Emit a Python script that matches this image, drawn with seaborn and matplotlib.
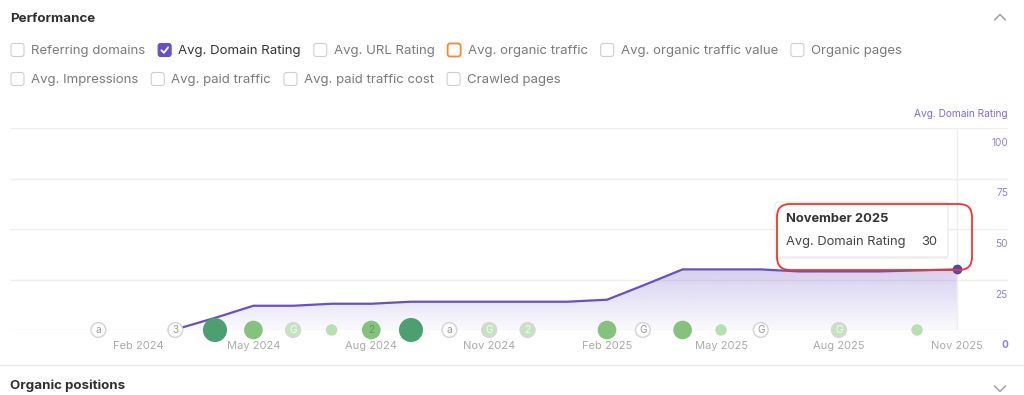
import numpy as np
import pandas as pd
import matplotlib
matplotlib.use("Agg")
import matplotlib.pyplot as plt
import matplotlib.dates as mdates
import matplotlib.transforms as mtransforms
from matplotlib.patches import FancyBboxPatch
import seaborn as sns

# --- data ------------------------------------------------------------------
dr_dates = ["2024-03-05", "2024-04-01", "2024-05-01", "2024-06-01", "2024-07-01",
            "2024-08-01", "2024-09-01", "2024-10-01", "2024-11-01", "2024-12-01",
            "2025-01-01", "2025-02-01", "2025-03-01", "2025-04-01", "2025-05-01",
            "2025-06-01", "2025-07-01", "2025-08-01", "2025-09-01", "2025-10-01",
            "2025-11-01"]
dr_values = [1, 6, 12, 12, 13, 13, 14, 14, 14, 14, 14, 15, 22, 30, 30, 30, 29, 29, 29, 29.5, 30]

event_dates = ["2024-01-01", "2024-03-01", "2024-04-01", "2024-05-01", "2024-06-01",
               "2024-07-01", "2024-08-01", "2024-09-01", "2024-10-01", "2024-11-01",
               "2024-12-01", "2025-02-01", "2025-03-01", "2025-04-01", "2025-05-01",
               "2025-06-01", "2025-08-01", "2025-10-01"]
event_kinds = ["note", "note", "big", "mid", "ring", "small", "mid", "big", "note", "ring",
               "ring", "mid", "note", "mid", "small", "note", "ring", "small"]
event_labels = ["a", "3", "", "", "G", "", "2", "", "a", "G", "2", "", "G", "", "", "G", "G", ""]

x_tick_dates = ["2024-02-01", "2024-05-01", "2024-08-01", "2024-11-01",
                "2025-02-01", "2025-05-01", "2025-08-01", "2025-11-01"]
x_tick_labels = ["Feb 2024", "May 2024", "Aug 2024", "Nov 2024",
                 "Feb 2025", "May 2025", "Aug 2025", "Nov 2025"]
y_ticks = [0, 25, 50, 75, 100]

row1_labels = ["Referring domains", "Avg. Domain Rating", "Avg. URL Rating",
               "Avg. organic traffic", "Avg. organic traffic value", "Organic pages"]
row1_states = ["off", "checked", "off", "orange", "off", "off"]
row2_labels = ["Avg. Impressions", "Avg. paid traffic", "Avg. paid traffic cost", "Crawled pages"]
row2_states = ["off", "off", "off", "off"]

tooltip_title = "November 2025"
tooltip_metric = "Avg. Domain Rating"
tooltip_value = "30"

# --- style -----------------------------------------------------------------
sns.set_theme(style="white")
plt.rcParams["font.family"] = ["Inter", "DejaVu Sans"]

PURPLE = "#6a50c2"
LABEL_PURPLE = "#8e82d6"
GRID = "#efefef"

df = pd.DataFrame({"date": pd.to_datetime(dr_dates), "dr": dr_values})
ev = pd.DataFrame({"date": pd.to_datetime(event_dates), "kind": event_kinds,
                   "label": event_labels})
ev["y"] = 0

fig = plt.figure(figsize=(10.24, 3.95), dpi=100)
fig.patch.set_facecolor("white")

W, H = 1024, 395
ax = fig.add_axes([10 / W, (H - 330) / H, 998 / W, 202 / H])
ax.set_facecolor("white")

x_left = mdates.date2num(pd.Timestamp("2023-10-24"))
x_right = mdates.date2num(pd.Timestamp("2025-12-11"))

# gradient fill under the line
fill = ax.fill_between(df["date"], df["dr"], 0, color="none", lw=0)
path = fill.get_paths()[0]
rgb = matplotlib.colors.to_rgb("#7560c8")
img = np.zeros((256, 1, 4))
img[..., :3] = rgb
img[..., 3] = np.linspace(0.03, 0.30, 256)[:, None]
x0 = mdates.date2num(df["date"].iloc[0])
x1 = mdates.date2num(df["date"].iloc[-1])
im = ax.imshow(img, extent=[x0, x1, 0, max(dr_values)], origin="lower",
               aspect="auto", zorder=1)
im.set_clip_path(path, transform=ax.transData)

sns.lineplot(data=df, x="date", y="dr", ax=ax, color=PURPLE, lw=1.6, zorder=3)
ax.scatter(df["date"].iloc[-1], df["dr"].iloc[-1], s=36, color="#5a44b0", zorder=6,
           clip_on=False)

# vertical hover line
ax.axvline(df["date"].iloc[-1], color="#eeeeee", lw=1, zorder=0.5)

# event bubbles
plain = ev[ev["kind"].isin(["big", "mid", "small"])]
sns.scatterplot(data=plain, x="date", y="y", hue="kind", size="kind",
                palette={"big": "#4d9f72", "mid": "#84c27e", "small": "#b7e0b1"},
                sizes={"big": 300, "mid": 180, "small": 68},
                linewidth=0, legend=False, ax=ax, zorder=5)
ax.collections[-1].set_clip_on(False)

ringed = ev[ev["kind"].isin(["note", "ring"])]
sns.scatterplot(data=ringed, x="date", y="y", hue="kind",
                palette={"note": "#ffffff", "ring": "#c3e5be"},
                s=112, edgecolor="#d6d6d6", linewidth=1.1, legend=False, ax=ax, zorder=5)
ax.collections[-1].set_clip_on(False)

label_colors = {"note": "#9a9a9a", "ring": "#f4fbf3", "mid": "#5e9d58"}
for _, r in ev[ev["label"] != ""].iterrows():
    ax.text(r["date"], 0, r["label"], ha="center", va="center", fontsize=7.2,
            color=label_colors.get(r["kind"], "#888"), zorder=7, clip_on=False)

# axes cosmetics
ax.set_xlim(x_left, x_right)
ax.set_ylim(0, 100)
ax.set_yticks(y_ticks)
ax.set_yticklabels([])
ax.grid(axis="y", color=GRID, lw=1)
ax.grid(axis="x", visible=False)
ax.set_xticks(pd.to_datetime(x_tick_dates))
ax.set_xticklabels(x_tick_labels, color="#ababab", fontsize=8)
ax.tick_params(axis="both", length=0)
ax.tick_params(axis="x", pad=8)
ax.set_xlabel("")
ax.set_ylabel("")
for sp in ax.spines.values():
    sp.set_visible(False)

trans = mtransforms.blended_transform_factory(ax.transAxes, ax.transData)
trans = mtransforms.offset_copy(trans, fig=fig, x=0, y=-15, units="dots")
for v in y_ticks:
    ax.text(1.0, v, str(v), transform=trans, ha="right", va="center",
            fontsize=7.3, color=LABEL_PURPLE, fontweight="bold" if v == 0 else "normal")

# --- overlay in pixel coordinates for the UI bits ---------------------------
ov = fig.add_axes([0, 0, 1, 1])
ov.set_xlim(0, W)
ov.set_ylim(H, 0)
ov.axis("off")

ov.text(1008, 114, "Avg. Domain Rating", ha="right", va="center", fontsize=7.3,
        color="#7b6dd0")

ov.text(10, 18.5, "Performance", ha="left", va="center", fontsize=9.6,
        fontweight="bold", color="#2f2f2f")
ov.plot([994.5, 1000, 1005.5], [20, 14.5, 20], color="#a0a0a0", lw=1.1)

ov.plot([0, W], [365, 365], color="#e8e8e8", lw=1)
ov.text(10, 386, "Organic positions", ha="left", va="center", fontsize=9.6,
        fontweight="bold", color="#2f2f2f")
ov.plot([994.5, 1000, 1005.5], [386, 391.5, 386], color="#a0a0a0", lw=1.1)

renderer = fig.canvas.get_renderer()


def draw_row(labels, states, cy):
    x = 11
    for lab, st in zip(labels, states):
        if st == "checked":
            box = FancyBboxPatch((x, cy - 6.5), 13, 13, boxstyle="round,pad=0,rounding_size=2.5",
                                 fc="#6a50c2", ec="#6a50c2", lw=0.8)
            ov.add_patch(box)
            ov.plot([x + 3.3, x + 5.8, x + 10], [cy + 0.3, cy + 2.8, cy - 2.6],
                    color="white", lw=1.3, solid_capstyle="round")
            tc = "#333333"
        elif st == "orange":
            box = FancyBboxPatch((x, cy - 6.5), 13, 13, boxstyle="round,pad=0,rounding_size=2.5",
                                 fc="white", ec="#f28a3a", lw=1.3)
            ov.add_patch(box)
            tc = "#7a7a7a"
        else:
            box = FancyBboxPatch((x, cy - 6.5), 13, 13, boxstyle="round,pad=0,rounding_size=2.5",
                                 fc="white", ec="#cfcfcf", lw=0.8)
            ov.add_patch(box)
            tc = "#7a7a7a"
        t = ov.text(x + 20, cy + 1, lab, ha="left", va="center", fontsize=9.5, color=tc)
        w = t.get_window_extent(renderer).width
        x = x + 20 + w + 13


draw_row(row1_labels, row1_states, 50)
draw_row(row2_labels, row2_states, 79)

# tooltip
shadow = FancyBboxPatch((775, 203), 173, 56, boxstyle="round,pad=0,rounding_size=3",
                        fc="#f2f2f2", ec="none", zorder=2)
ov.add_patch(shadow)
tip = FancyBboxPatch((775, 202), 173, 55, boxstyle="round,pad=0,rounding_size=3",
                     fc="white", ec="#e9e9e9", lw=0.8, zorder=3)
ov.add_patch(tip)
ov.text(786, 219, tooltip_title, ha="left", va="center", fontsize=9.3,
        fontweight="bold", color="#333333", zorder=4)
ov.text(786, 242, tooltip_metric, ha="left", va="center", fontsize=9.3,
        color="#444444", zorder=4)
ov.text(937, 242, tooltip_value, ha="right", va="center", fontsize=9.3,
        color="#444444", zorder=4)
red = FancyBboxPatch((777, 204), 195, 66, boxstyle="round,pad=0,rounding_size=13",
                     fc="none", ec="#f2362b", lw=1.3, zorder=5)
ov.add_patch(red)

fig.savefig("out.png", dpi=100, facecolor="white")
